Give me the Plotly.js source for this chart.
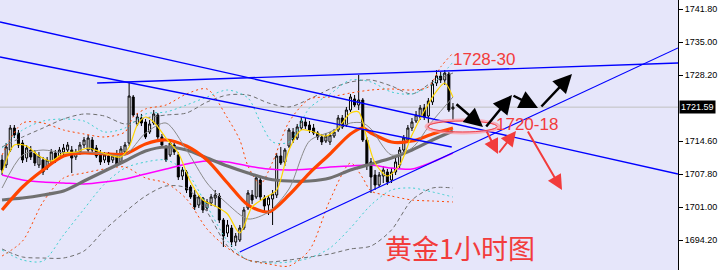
<!DOCTYPE html>
<html><head><meta charset="utf-8">
<script src="https://cdn.plot.ly/plotly-3.0.1.min.js"></script>
<style>html,body{margin:0;padding:0;background:#fff}#chart{width:725px;height:270px}</style>
</head><body><div id="chart"></div>
<script>
// ---- Candles (XAUUSD 1H) ----
const OPEN=[1710.70,1709.67,1712.76,1717.29,1716.26,1714.20,1711.11,1712.76,1712.14,1709.67,1710.70,1709.05,1710.29,1712.14,1711.11,1712.35,1712.76,1712.76,1711.32,1712.35,1713.79,1712.76,1714.82,1713.17,1712.14,1710.70,1711.52,1710.70,1711.73,1710.29,1712.35,1714.20,1723.68,1718.12,1719.35,1718.53,1716.47,1718.32,1719.97,1715.44,1713.17,1711.73,1713.79,1711.73,1707.40,1708.23,1705.14,1703.49,1701.43,1702.87,1700.81,1701.84,1702.87,1703.28,1698.34,1695.66,1696.69,1693.81,1694.22,1696.69,1700.81,1703.49,1703.08,1706.58,1702.87,1701.43,1702.67,1703.49,1711.52,1710.29,1713.58,1716.47,1715.23,1717.29,1718.53,1717.91,1717.29,1716.26,1715.44,1714.61,1714.41,1715.64,1716.88,1719.35,1717.91,1721.00,1723.27,1722.03,1723.06,1714.82,1710.29,1707.61,1705.55,1707.40,1708.23,1706.58,1708.23,1709.67,1712.76,1714.82,1717.29,1718.73,1719.56,1721.41,1719.76,1722.65,1726.56,1728.00,1727.18,1728.42,1721.21];
const HIGH=[1711.73,1714.20,1717.91,1717.91,1716.88,1714.82,1713.79,1713.58,1712.76,1712.35,1711.32,1711.32,1712.97,1712.76,1713.38,1714.00,1714.41,1713.58,1712.97,1714.41,1715.44,1715.85,1715.44,1713.79,1712.76,1712.35,1712.35,1712.14,1712.76,1713.58,1714.41,1726.56,1724.09,1720.38,1720.18,1719.15,1718.94,1721.00,1720.38,1716.06,1713.79,1714.82,1714.41,1712.35,1709.26,1708.64,1705.55,1704.52,1703.49,1703.08,1702.67,1703.70,1704.52,1703.90,1698.75,1698.34,1697.31,1695.66,1697.31,1701.02,1704.52,1704.52,1707.61,1707.20,1703.49,1703.49,1704.52,1712.14,1713.38,1713.17,1717.29,1717.29,1718.12,1719.56,1719.35,1718.73,1718.12,1716.67,1716.06,1716.26,1716.47,1717.09,1719.97,1719.97,1721.62,1724.30,1724.09,1728.21,1723.47,1715.44,1711.11,1708.64,1708.23,1709.46,1708.85,1709.05,1711.11,1713.38,1715.85,1717.91,1719.35,1720.79,1722.03,1722.24,1723.47,1727.18,1729.24,1728.83,1729.24,1728.83,1722.44];
const LOW=[1707.61,1709.05,1712.35,1715.23,1713.17,1710.08,1710.29,1710.70,1709.46,1709.05,1707.61,1708.64,1709.88,1710.08,1710.70,1711.73,1712.14,1708.02,1710.70,1711.73,1713.17,1712.35,1712.14,1711.11,1709.67,1710.08,1709.67,1710.08,1709.46,1709.88,1711.94,1713.58,1719.56,1717.70,1717.70,1715.03,1716.06,1717.91,1715.03,1713.38,1710.29,1711.32,1711.73,1706.58,1706.58,1703.90,1702.67,1700.40,1700.81,1699.78,1700.19,1701.22,1701.02,1697.72,1692.78,1694.84,1692.78,1692.98,1693.81,1696.28,1700.40,1701.64,1702.67,1702.46,1699.99,1699.37,1697.31,1702.87,1709.67,1709.46,1713.17,1714.20,1714.82,1716.88,1717.09,1716.26,1715.85,1714.82,1713.79,1714.20,1713.79,1715.23,1716.47,1717.09,1717.50,1720.59,1721.62,1721.00,1714.41,1708.64,1703.90,1704.52,1705.14,1705.96,1705.55,1705.96,1707.61,1709.05,1712.14,1714.20,1716.67,1718.32,1718.94,1718.94,1718.32,1722.03,1725.94,1726.56,1726.15,1720.59,1718.94];
const CLOSE=[1708.64,1713.38,1717.29,1715.85,1713.79,1710.70,1713.17,1711.32,1710.08,1711.52,1708.23,1710.70,1712.35,1710.70,1712.76,1713.17,1713.79,1711.11,1712.35,1713.79,1714.82,1715.23,1712.76,1711.52,1710.29,1711.73,1710.29,1711.52,1709.88,1712.97,1713.79,1723.88,1719.97,1719.56,1718.32,1715.44,1718.12,1720.18,1715.44,1713.79,1710.70,1714.20,1712.35,1707.20,1708.64,1704.52,1703.08,1701.02,1703.08,1700.40,1702.05,1703.08,1703.49,1698.34,1695.04,1697.31,1693.81,1695.04,1696.69,1700.40,1703.90,1702.46,1706.99,1703.08,1701.22,1702.87,1703.70,1711.52,1710.08,1712.76,1716.88,1714.82,1717.50,1718.73,1717.70,1716.88,1716.26,1715.44,1714.41,1715.64,1715.85,1716.47,1719.35,1717.50,1721.00,1723.68,1722.03,1723.06,1714.82,1709.67,1707.20,1705.55,1707.61,1708.64,1706.17,1708.23,1710.29,1712.76,1715.23,1717.29,1718.53,1719.97,1721.41,1719.56,1722.85,1726.36,1728.00,1727.18,1728.62,1721.00,1721.59];
const CUR_PRICE=1721.59;

// ---- Indicator lines (bar index, price) ----
const IDX5=[0,5,10,15,20,25,30,35,40,45,50,55,60,65,70,75,80,85,90,95,100,105,110];
const IDX5B=[0,5,10,15,20,25,30,35,40,45,50,55,60,65,70,75,80,85,88,90,95,100,105,110];
const MA_ORANGE=[1700.40,1705.14,1708.64,1711.52,1712.14,1711.94,1711.94,1714.00,1714.82,1713.58,1710.70,1705.96,1701.43,1699.99,1703.49,1708.02,1711.94,1716.06,1717.29,1716.26,1714.41,1714.61,1716.06,1717.29];
const MA_GRAY=[1702.46,1702.87,1703.49,1704.31,1706.37,1708.43,1710.49,1712.55,1713.38,1712.76,1711.11,1709.46,1708.02,1706.79,1706.37,1706.37,1706.99,1708.64,1709.88,1711.11,1712.76,1714.82,1716.67];
const MA_MAGENTA=[1707.61,1706.58,1706.17,1705.96,1705.76,1706.17,1706.79,1707.82,1708.85,1709.88,1710.49,1710.29,1709.46,1708.85,1708.64,1708.85,1709.26,1709.46,1709.67,1709.05,1708.85,1710.29,1712.14];
const IDX_Y=[0,3,6,9,12,15,18,21,24,27,29,31,33,35,37,40,43,46,49,52,55,58,61,64,67,70,73,76,79,82,85,87,89,91,94,97,100,103,106,108,110];
const MA_YELLOW=[1708.02,1713.79,1713.58,1711.52,1710.49,1712.14,1712.35,1713.17,1712.35,1711.52,1711.32,1713.38,1717.91,1719.56,1718.53,1715.23,1712.14,1706.17,1702.46,1701.22,1699.57,1695.66,1701.02,1702.87,1704.52,1712.76,1716.88,1716.47,1715.64,1717.29,1720.38,1720.59,1715.23,1710.08,1707.40,1709.67,1715.85,1720.79,1724.91,1726.56,1723.68];
const MA_THIN=[1704.93,1711.73,1712.76,1712.14,1712.35,1711.94,1711.73,1716.26,1718.32,1712.76,1705.96,1701.64,1698.55,1699.99,1704.73,1714.61,1716.47,1718.32,1718.32,1717.09,1711.73,1713.17,1718.73,1723.68];
const IDX_U1=[0,5,10,15,20,25,30,32,35,40,45,50,55,58,60,63,66,70,75,80,85,90,95,100,104,107,110];
const BAND_ORANGE_UP=[1711.73,1718.32,1718.32,1716.88,1716.06,1715.44,1716.47,1719.56,1721.21,1722.03,1724.30,1725.33,1719.35,1714.82,1709.46,1705.76,1710.29,1718.53,1723.27,1723.68,1724.50,1725.12,1725.33,1725.12,1725.74,1729.86,1732.74];
const BAND_ORANGE_LO=[1690.92,1694.01,1702.05,1706.99,1708.02,1708.85,1709.26,1706.99,1705.96,1702.67,1696.49,1692.57,1690.10,1689.28,1688.86,1692.16,1702.46,1710.08,1706.99,1704.31,1703.28,1702.46,1702.25,1702.05];
const IDX_U2=[0,5,10,15,20,25,30,35,40,45,50,55,60,63,66,70,75,80,85,90,95,100,105,110];
const BAND_CYAN_UP=[1713.17,1716.88,1718.73,1719.15,1718.73,1716.47,1717.29,1720.18,1720.59,1722.03,1723.68,1725.12,1723.47,1718.53,1714.41,1714.41,1721.41,1724.30,1727.18,1726.77,1724.71,1724.30,1726.36,1730.89];
const BAND_CYAN_LO=[1692.16,1690.10,1689.89,1695.25,1700.61,1705.76,1709.05,1710.29,1710.70,1708.23,1701.22,1694.01,1690.10,1689.48,1689.69,1690.51,1692.57,1696.69,1701.43,1704.52,1704.93,1704.11,1703.08];
const BAND_GRAY_UP=[1713.38,1715.44,1717.29,1719.15,1720.18,1719.76,1718.12,1719.35,1719.97,1720.38,1722.65,1724.09,1724.09,1722.44,1721.62,1723.27,1725.33,1726.77,1727.18,1725.94,1724.30,1726.77,1728.62];
const BAND_GRAY_LO=[1692.37,1690.72,1690.51,1690.51,1691.95,1696.28,1699.99,1703.28,1705.34,1704.93,1699.99,1692.98,1690.10,1689.69,1690.10,1690.72,1691.34,1692.37,1692.98,1696.28,1702.46,1704.93,1704.93];

// ---- Trend lines (bar index, price) ----
const TL_A={x:[-0.5,164.9],y:[1739.13,1707.82]};
const TL_B={x:[-0.5,109.7],y:[1731.92,1713.38]};
const TL_C={x:[23.2,164.9],y:[1726.56,1730.68]};
const TL_E={x:[58.0,164.9],y:[1691.75,1733.77]};

const TICKS=[1741.80,1735.00,1728.20,1714.60,1707.80,1701.00,1694.20];
const LABEL_HIGH='1728-30', LABEL_LOW='1720-18', TITLE='黄金1小时图';

const xIdx=OPEN.map((_,i)=>i);
function ln(x,y,color,width,dash,shape){return {type:'scatter',mode:'lines',x:x,y:y,line:{color:color,width:width,dash:dash||'solid',shape:shape||'spline',smoothing:0.8},hoverinfo:'skip',showlegend:false};}

const traces=[
  ln(IDX5,BAND_GRAY_UP,'#6e6e6e',1,'4px,3px'),
  ln(IDX5,BAND_GRAY_LO,'#6e6e6e',1,'4px,3px'),
  ln(IDX_U2,BAND_CYAN_UP,'#3fd0d0',1,'2px,3px'),
  ln(IDX5,BAND_CYAN_LO,'#3fd0d0',1,'2px,3px'),
  ln(IDX_U1,BAND_ORANGE_UP,'#ff4500',1,'2px,3px'),
  ln(IDX5B,BAND_ORANGE_LO,'#ff4500',1,'2px,3px'),
  {type:'candlestick',x:xIdx,open:OPEN,high:HIGH,low:LOW,close:CLOSE,
   increasing:{line:{color:'#000',width:1},fillcolor:'#ffffff'},
   decreasing:{line:{color:'#000',width:1},fillcolor:'#000000'},
   whiskerwidth:0,hoverinfo:'skip',showlegend:false},
  ln(IDX5,MA_MAGENTA,'#ff00ff',1.5),
  ln(IDX5,MA_GRAY,'#707070',3.2),
  ln(IDX5B,MA_ORANGE,'#ff4500',3.2),
  ln(IDX5B,MA_THIN,'#8a8a8a',1),
  ln(IDX_Y,MA_YELLOW,'#ffd700',1.2),
  ln(TL_A.x,TL_A.y,'#0000ff',1.4,'solid','linear'),
  ln(TL_B.x,TL_B.y,'#0000ff',1.4,'solid','linear'),
  ln(TL_C.x,TL_C.y,'#0000ff',1.4,'solid','linear'),
  ln(TL_E.x,TL_E.y,'#0000ff',1.1,'solid','linear')
];

const PW=678, PH=270;
function arrow(hx,hy,tx,ty,color,w,s){return {xref:'paper',yref:'paper',x:hx/PW,y:1-hy/PH,ax:tx-hx,ay:ty-hy,showarrow:true,text:'',arrowhead:2,arrowsize:s,arrowwidth:w,arrowcolor:color,standoff:0,startstandoff:0};}
function label(cx,cy,text,size,family){return {xref:'paper',yref:'paper',x:cx/PW,y:1-cy/PH,xanchor:'center',yanchor:'middle',text:text,showarrow:false,font:{family:family,size:size,color:RED}};}
const RED='#f23c3c';
const annotations=[
  label(484,59,LABEL_HIGH,17,'Liberation Sans, Arial'),
  label(527,124,LABEL_LOW,17,'Liberation Sans, Arial'),
  label(460,247,TITLE,27,'Noto Sans CJK SC'),
  {xref:'paper',yref:'y',x:1,xanchor:'left',yanchor:'middle',xshift:1,y:CUR_PRICE,text:CUR_PRICE.toFixed(2),showarrow:false,bgcolor:'#000',borderpad:1,font:{family:'Liberation Sans, Arial',size:9,color:'#fff'}},
  arrow(483,127,455,103,'#000',2.5,1.5),
  arrow(512,95,485,128,'#000',2.5,1.5),
  arrow(538,108,512,95,'#000',2.5,1.5),
  arrow(572,74,540,108,'#000',2.5,1.5),
  arrow(498,154,486,130,RED,2,1.5),
  arrow(516,131,498,154,RED,2,1.5),
  arrow(562,190,527,130,RED,2,1.5)
];
const shapes=[
  {type:'line',xref:'paper',x0:0,x1:1,yref:'y',y0:CUR_PRICE,y1:CUR_PRICE,line:{color:'#c0c0c0',width:1},layer:'below'},
  {type:'circle',xref:'paper',yref:'paper',x0:426/PW,x1:499/PW,y0:1-133/PH,y1:1-120/PH,line:{color:'rgba(255,150,160,0.7)',width:3}},
  {type:'circle',xref:'paper',yref:'paper',x0:428/PW,x1:497/PW,y0:1-132/PH,y1:1-121/PH,line:{color:'rgba(235,50,60,0.9)',width:1}}
];
const layout={width:725,height:270,margin:{l:0,r:47,t:0,b:0},paper_bgcolor:'#ffffff',plot_bgcolor:'#e6e6fa',showlegend:false,
  xaxis:{range:[-0.5,164.9],visible:false,rangeslider:{visible:false},fixedrange:true},
  yaxis:{side:'right',range:[1688.04,1743.66],tickvals:TICKS,ticktext:TICKS.map(v=>v.toFixed(2)),showgrid:false,zeroline:false,showline:true,linecolor:'#000',linewidth:1,ticks:'outside',ticklen:4,tickcolor:'#000',tickfont:{family:'Liberation Sans, Arial',size:9,color:'#000'},fixedrange:true},
  shapes:shapes,annotations:annotations};
Plotly.newPlot('chart',traces,layout,{staticPlot:true,displayModeBar:false});
</script></body></html>
